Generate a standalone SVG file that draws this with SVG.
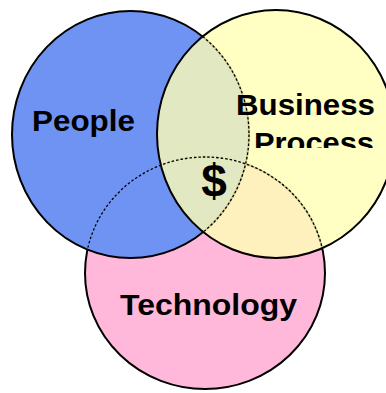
<svg xmlns="http://www.w3.org/2000/svg" width="386" height="393" viewBox="0 0 386 393">
  <defs>
    <clipPath id="clipBlue">
      <ellipse cx="130.5" cy="134.5" rx="117.5" ry="122.5"/>
    </clipPath>
    <clipPath id="clipYellow">
      <ellipse cx="276" cy="134" rx="118" ry="123"/>
    </clipPath>
    <clipPath id="clipProcess">
      <rect x="0" y="0" width="386" height="148"/>
    </clipPath>
  </defs>
  <style>
    .circle { stroke: #000000; stroke-width: 2; }
    .hidden-edge { fill: none; stroke: #000000; stroke-width: 1.3; stroke-dasharray: 2.5 2; }
    .label { font-family: "Liberation Sans", Arial, sans-serif; font-weight: bold; fill: #000000; }
  </style>
  <rect x="0" y="0" width="386" height="393" fill="#ffffff"/>
  <g id="technology">
    <ellipse class="circle" cx="205" cy="273" rx="120" ry="116" fill="#ffb8da"/>
    <text class="label" x="120" y="315" font-size="30" textLength="177" lengthAdjust="spacingAndGlyphs">Technology</text>
  </g>
  <g id="people">
    <ellipse class="circle" cx="130.5" cy="134.5" rx="118.5" ry="123.5" fill="#6f93f2"/>
    <text class="label" x="32" y="131" font-size="30" textLength="103" lengthAdjust="spacingAndGlyphs">People</text>
  </g>
  <g id="technology-edge-under-people" clip-path="url(#clipBlue)">
    <ellipse class="hidden-edge" cx="205" cy="273" rx="120" ry="116"/>
  </g>
  <g id="business-process">
    <ellipse class="circle" cx="276" cy="134" rx="119" ry="124" fill="#ffffb5" fill-opacity="0.8"/>
    <text class="label" x="236" y="115" font-size="30" textLength="139" lengthAdjust="spacingAndGlyphs">Business</text>
    <text class="label" x="254" y="153" font-size="30" textLength="120" lengthAdjust="spacingAndGlyphs" clip-path="url(#clipProcess)">Process</text>
  </g>
  <g id="edges-under-business" clip-path="url(#clipYellow)">
    <ellipse class="hidden-edge" cx="130.5" cy="134.5" rx="118.5" ry="123.5"/>
    <ellipse class="hidden-edge" cx="205" cy="273" rx="120" ry="116"/>
  </g>
  <g id="center">
    <text class="label" x="214" y="197" font-size="46" text-anchor="middle">$</text>
  </g>
  <g id="connectors"/>
</svg>
